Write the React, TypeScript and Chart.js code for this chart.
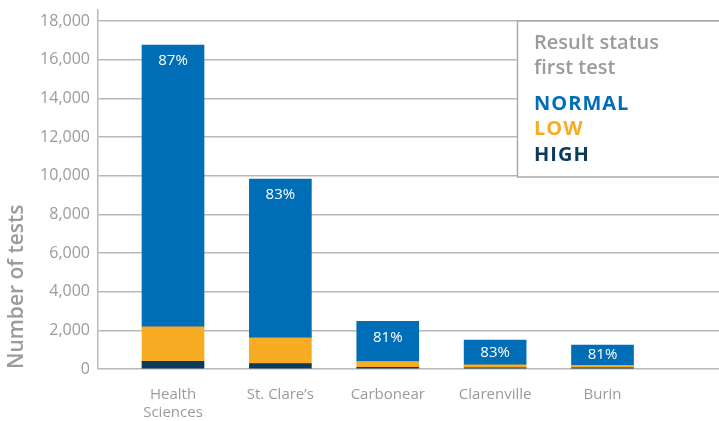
import React, { useEffect, useRef } from 'react';
import { Chart, registerables } from 'chart.js';

Chart.register(...registerables);

const CATEGORIES: (string | string[])[] = [['Health', 'Sciences'], 'St. Clare\u2019s', 'Carbonear', 'Clarenville', 'Burin'];
const NORMAL = [14580, 8220, 2070, 1290, 1050];
const LOW = [1780, 1330, 310, 150, 130];
const HIGH = [400, 280, 80, 60, 60];
const PERCENT = ['87%', '83%', '81%', '83%', '81%'];
const Y_TICKS = [0, 2000, 4000, 6000, 8000, 10000, 12000, 14000, 16000, 18000];
const LEGEND_TITLE = ['Result status', 'first test'];

const C_NORMAL = '#006db7';
const C_LOW = '#f8ac23';
const C_HIGH = '#0b3a5c';
const GREY = '#9b9b9b';
const GRID = '#b8b8b8';
const FONT = '"Open Sans", sans-serif';

const overlay = {
  id: 'overlay',
  afterDatasetsDraw(chart: any) {
    const ctx = chart.ctx;
    const meta = chart.getDatasetMeta(2);
    ctx.save();
    ctx.fillStyle = '#ffffff';
    ctx.font = `500 15px ${FONT}`;
    ctx.textAlign = 'center';
    ctx.textBaseline = 'middle';
    meta.data.forEach((el: any, i: number) => {
      const { x, y, base } = el.getProps(['x', 'y', 'base'], true);
      const cy = Math.min(y + 16, (y + base) / 2);
      ctx.fillText(PERCENT[i], x, cy);
    });
    ctx.restore();
  },
  afterDraw(chart: any) {
    const ctx = chart.ctx;
    ctx.save();
    const bx = 517.5;
    const by = 21;
    const bw = 230;
    const bh = 156;
    ctx.fillStyle = '#ffffff';
    ctx.fillRect(bx, by, bw, bh);
    ctx.strokeStyle = '#ababab';
    ctx.lineWidth = 1.5;
    ctx.strokeRect(bx, by, bw, bh);
    ctx.textAlign = 'left';
    ctx.textBaseline = 'middle';
    ctx.fillStyle = GREY;
    ctx.font = `600 20px ${FONT}`;
    LEGEND_TITLE.forEach((t, i) => ctx.fillText(t, 534, 43 + i * 25));
    ctx.font = `700 20px ${FONT}`;
    try { (ctx as any).letterSpacing = '1px'; } catch (e) {}
    const ds = [...chart.data.datasets].reverse();
    ds.forEach((d: any, i: number) => {
      ctx.fillStyle = d.backgroundColor;
      ctx.fillText(d.label, 534, 104 + i * 25.5);
    });
    ctx.restore();
  },
};

export default function App() {
  const ref = useRef<HTMLCanvasElement>(null);
  useEffect(() => {
    if (!ref.current) return;
    const mk = (arr: number[]) => arr.map((v, i) => ({ x: i, y: v }));
    const chart = new Chart(ref.current, {
      type: 'bar',
      data: {
        datasets: [
          { label: 'HIGH', data: mk(HIGH), backgroundColor: C_HIGH, barThickness: 62 },
          { label: 'LOW', data: mk(LOW), backgroundColor: C_LOW, barThickness: 62 },
          { label: 'NORMAL', data: mk(NORMAL), backgroundColor: C_NORMAL, barThickness: 62 },
        ] as any,
      },
      options: {
        animation: false,
        responsive: false,
        maintainAspectRatio: false,
        layout: { padding: { top: 10, left: 0, right: 0, bottom: 0 } },
        plugins: { legend: { display: false }, tooltip: { enabled: false } },
        scales: {
          x: {
            type: 'linear',
            stacked: true,
            offset: false,
            min: -0.6985,
            max: 5.085,
            grid: { display: false, drawTicks: false },
            border: { display: false },
            afterBuildTicks: (s: any) => { s.ticks = CATEGORIES.map((_, i) => ({ value: i })); },
            afterFit: (s: any) => { s.height = 52; s.paddingLeft = 0; s.paddingRight = 0; },
            ticks: {
              autoSkip: false,
              maxRotation: 0,
              padding: 17,
              color: GREY,
              font: { family: FONT, size: 15, lineHeight: 1.2 },
              callback: (v: any) => CATEGORIES[v] as any,
            },
          },
          y: {
            stacked: true,
            min: 0,
            max: 18570,
            afterBuildTicks: (s: any) => { s.ticks = Y_TICKS.map((v) => ({ value: v })); },
            afterFit: (s: any) => { s.width = 98; s.paddingTop = 0; s.paddingBottom = 0; },
            grid: { color: GRID, lineWidth: 1.5, drawTicks: false },
            border: { display: true, color: GRID, width: 1.5 },
            ticks: {
              padding: 8,
              color: GREY,
              font: { family: FONT, size: 16 },
              callback: (v: any) => Number(v).toLocaleString('en-US'),
            },
            title: {
              display: true,
              text: 'Number of tests',
              align: 'start',
              color: GREY,
              font: { family: FONT, size: 21, weight: '600' as any, lineHeight: 1.2 },
              padding: { top: 4, bottom: 0 },
            },
          },
        },
      },
      plugins: [overlay],
    });
    return () => chart.destroy();
  }, []);
  return (
    <div style={{ position: 'fixed', left: 0, top: 0, width: 719, height: 421, background: '#fff' }}>
      <canvas ref={ref} width={719} height={421} style={{ width: 719, height: 421 }} />
    </div>
  );
}
